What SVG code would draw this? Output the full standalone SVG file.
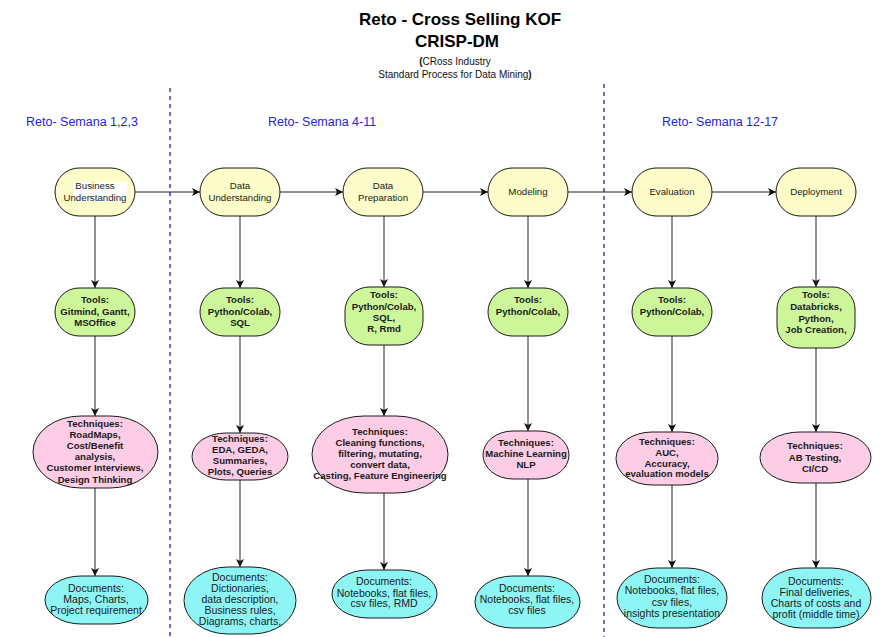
<svg xmlns="http://www.w3.org/2000/svg" width="891" height="637" viewBox="0 0 891 637">
<defs>
<marker id="ah" viewBox="0 0 8 8" refX="8" refY="4" markerWidth="8" markerHeight="8" markerUnits="userSpaceOnUse" orient="auto">
<path d="M0,0 L8,4 L0,8 L2,4 z" fill="#111"/>
</marker>
<style>
text{font-family:"Liberation Sans",Arial,sans-serif;fill:#1a1a1a;text-anchor:middle}
.t1{font-size:17px;font-weight:bold;fill:#000}
.sub{font-size:10px;fill:#111}
.sec{font-size:12.5px;fill:#2323e6;text-anchor:start}
.ph rect{fill:#fdfdc9;stroke:#1a1a1a;stroke-width:1}
.ph rect.lbl{fill:#ffffff;stroke:none}
.tl rect{fill:#cdf69a;stroke:#1a1a1a;stroke-width:1}
.tc rect{fill:#fdcde6;stroke:#1a1a1a;stroke-width:1}
.dc rect{fill:#8ef5f5;stroke:#1a1a1a;stroke-width:1}
.ph text{font-size:9.7px}
.tl text,.tc text{font-size:9.6px;font-weight:bold}
.dc text{font-size:10.5px}
.div{stroke:#3b3bc4;stroke-width:1.5;stroke-dasharray:4 4;fill:none}
.cn line{stroke:#222;stroke-width:1;marker-end:url(#ah)}
</style>
</defs>
<rect width="891" height="637" fill="#fff"/>

<g id="title">
<text class="t1" x="460" y="25">Reto - Cross Selling KOF</text>
<text class="t1" x="457" y="47">CRISP-DM</text>
<text class="sub" x="455" y="65"><tspan font-weight="bold">(</tspan>CRoss Industry</text>
<text class="sub" x="455" y="78">Standard Process for Data Mining<tspan font-weight="bold">)</tspan></text>
</g>

<g id="sections">
<text class="sec" x="26" y="126">Reto- Semana 1,2,3</text>
<text class="sec" x="268" y="126">Reto- Semana 4-11</text>
<text class="sec" x="662" y="126">Reto- Semana 12-17</text>
<line class="div" x1="170" y1="88" x2="170" y2="637"/>
<line class="div" x1="604" y1="84" x2="604" y2="637"/>
</g>

<g id="connectors" class="cn">
<line x1="135" y1="192" x2="200" y2="192"/>
<line x1="280" y1="192" x2="343" y2="192"/>
<line x1="423" y1="192" x2="488" y2="192"/>
<line x1="568" y1="192" x2="632" y2="192"/>
<line x1="712" y1="192" x2="776" y2="192"/>
<line x1="95" y1="216" x2="95" y2="288"/>
<line x1="95" y1="336" x2="95" y2="416"/>
<line x1="95" y1="488" x2="95" y2="576"/>
<line x1="240" y1="216" x2="240" y2="288"/>
<line x1="240" y1="336" x2="240" y2="433"/>
<line x1="240" y1="480" x2="240" y2="567"/>
<line x1="384" y1="216" x2="384" y2="287"/>
<line x1="384" y1="345" x2="384" y2="416"/>
<line x1="384" y1="493" x2="384" y2="570"/>
<line x1="528" y1="216" x2="528" y2="288"/>
<line x1="528" y1="336" x2="528" y2="431"/>
<line x1="528" y1="479" x2="528" y2="576"/>
<line x1="672" y1="216" x2="672" y2="288"/>
<line x1="672" y1="336" x2="672" y2="432"/>
<line x1="672" y1="485" x2="672" y2="568"/>
<line x1="816" y1="216" x2="816" y2="287"/>
<line x1="816" y1="348" x2="816" y2="432"/>
<line x1="816" y1="483" x2="816" y2="568"/>
</g>

<!-- Phases -->
<g id="business-understanding" class="ph">
<rect x="55" y="168" width="80" height="48" rx="24"/>
<rect class="lbl" x="73" y="182" width="54" height="20"/>
<text x="95" y="189.4">Business</text>
<text x="95" y="200.7">Understanding</text>
</g>
<g id="data-understanding" class="ph">
<rect x="200" y="168" width="80" height="48" rx="24"/>
<text x="240" y="189.4">Data</text>
<text x="240" y="200.7">Understanding</text>
</g>
<g id="data-preparation" class="ph">
<rect x="343" y="168" width="80" height="48" rx="24"/>
<text x="383" y="189.4">Data</text>
<text x="383" y="200.7">Preparation</text>
</g>
<g id="modeling" class="ph">
<rect x="488" y="168" width="80" height="48" rx="24"/>
<text x="528" y="195.1">Modeling</text>
</g>
<g id="evaluation" class="ph">
<rect x="632" y="168" width="80" height="48" rx="24"/>
<text x="672" y="195.1">Evaluation</text>
</g>
<g id="deployment" class="ph">
<rect x="776" y="168" width="80" height="48" rx="24"/>
<text x="816" y="195.1">Deployment</text>
</g>

<!-- Tools -->
<g id="tools-bu" class="tl">
<rect x="55" y="288" width="80" height="48" rx="24"/>
<text x="95" y="303.4">Tools:</text>
<text x="95" y="314.7">Gitmind, Gantt,</text>
<text x="95" y="326">MSOffice</text>
</g>
<g id="tools-du" class="tl">
<rect x="200" y="288" width="80" height="48" rx="24"/>
<text x="240" y="303.4">Tools:</text>
<text x="240" y="314.7">Python/Colab,</text>
<text x="240" y="326">SQL</text>
</g>
<g id="tools-dp" class="tl">
<rect x="345" y="287" width="78" height="58" rx="24"/>
<text x="384" y="298.4">Tools:</text>
<text x="384" y="309.7">Python/Colab,</text>
<text x="384" y="321">SQL,</text>
<text x="384" y="332.3">R, Rmd</text>
</g>
<g id="tools-mod" class="tl">
<rect x="488" y="288" width="80" height="48" rx="24"/>
<text x="528" y="303.4">Tools:</text>
<text x="528" y="314.7">Python/Colab,</text>
</g>
<g id="tools-eval" class="tl">
<rect x="632" y="288" width="80" height="48" rx="24"/>
<text x="672" y="303.4">Tools:</text>
<text x="672" y="314.7">Python/Colab,</text>
</g>
<g id="tools-dep" class="tl">
<rect x="777" y="287" width="78" height="61" rx="22"/>
<text x="816" y="298.4">Tools:</text>
<text x="816" y="309.7">Databricks,</text>
<text x="816" y="322">Python,</text>
<text x="816" y="333.3">Job Creation,</text>
</g>

<!-- Techniques -->
<g id="tech-bu" class="tc">
<rect x="33" y="416" width="125" height="72" rx="48" ry="36"/>
<text x="95" y="427.4">Techniques:</text>
<text x="95" y="438.4">RoadMaps,</text>
<text x="95" y="449.1">Cost/Benefit</text>
<text x="95" y="460.1">analysis,</text>
<text x="95" y="471.1">Customer Interviews,</text>
<text x="95" y="482.7">Design Thinking</text>
</g>
<g id="tech-du" class="tc">
<rect x="192" y="433" width="96" height="47" rx="34" ry="23.5"/>
<text x="240" y="441.7">Techniques:</text>
<text x="240" y="453.4">EDA, GEDA,</text>
<text x="240" y="464.4">Summaries,</text>
<text x="240" y="475.1">Plots, Queries</text>
</g>
<g id="tech-dp" class="tc">
<rect x="312" y="416" width="136" height="77" rx="52" ry="38.5"/>
<text x="380" y="435.1">Techniques:</text>
<text x="380" y="446.1">Cleaning functions,</text>
<text x="380" y="457.4">filtering, mutating,</text>
<text x="380" y="467.7">convert data,</text>
<text x="380" y="479.4">Casting, Feature Engineering</text>
</g>
<g id="tech-mod" class="tc">
<rect x="483" y="431" width="86" height="48" rx="30" ry="24"/>
<text x="526" y="446.1">Techniques:</text>
<text x="526" y="457.4">Machine Learning</text>
<text x="526" y="468.4">NLP</text>
</g>
<g id="tech-eval" class="tc">
<rect x="616" y="432" width="102" height="53" rx="36" ry="26.5"/>
<text x="667" y="445.1">Techniques:</text>
<text x="667" y="455.7">AUC,</text>
<text x="667" y="466.7">Accuracy,</text>
<text x="667" y="477.4">evaluation models</text>
</g>
<g id="tech-dep" class="tc">
<rect x="760" y="432" width="111" height="51" rx="40" ry="25.5"/>
<text x="815" y="449.4">Techniques:</text>
<text x="815" y="461.4">AB Testing,</text>
<text x="815" y="472.4">CI/CD</text>
</g>

<!-- Documents -->
<g id="docs-bu" class="dc">
<rect x="45" y="576" width="103" height="48" rx="36" ry="24"/>
<text x="96" y="591.7">Documents:</text>
<text x="96" y="603.4">Maps, Charts,</text>
<text x="96" y="614.4">Project requirement</text>
</g>
<g id="docs-du" class="dc">
<rect x="184" y="567" width="112" height="67" rx="44" ry="33.5"/>
<text x="240" y="580.7">Documents:</text>
<text x="240" y="591.7">Dictionaries,</text>
<text x="240" y="602.7">data description,</text>
<text x="240" y="614.1">Business rules,</text>
<text x="240" y="625.1">Diagrams, charts,</text>
</g>
<g id="docs-dp" class="dc">
<rect x="332" y="570" width="105" height="48" rx="36" ry="24"/>
<text x="384" y="585.1">Documents:</text>
<text x="384" y="596.7">Notebooks, flat files,</text>
<text x="384" y="607.4">csv files, RMD</text>
</g>
<g id="docs-mod" class="dc">
<rect x="475" y="576" width="105" height="52" rx="38" ry="26"/>
<text x="527" y="591.7">Documents:</text>
<text x="527" y="603.4">Notebooks, flat files,</text>
<text x="527" y="614.4">csv files</text>
</g>
<g id="docs-eval" class="dc">
<rect x="617" y="568" width="110" height="60" rx="40" ry="30"/>
<text x="672" y="583.4">Documents:</text>
<text x="672" y="594.4">Notebooks, flat files,</text>
<text x="672" y="605.7">csv files,</text>
<text x="672" y="616.7">insights presentation</text>
</g>
<g id="docs-dep" class="dc">
<rect x="762" y="568" width="109" height="60" rx="40" ry="30"/>
<text x="816" y="585.1">Documents:</text>
<text x="816" y="596.1">Final deliveries,</text>
<text x="816" y="607.4">Charts of costs and</text>
<text x="816" y="618.4">profit (middle time)</text>
</g>
</svg>
